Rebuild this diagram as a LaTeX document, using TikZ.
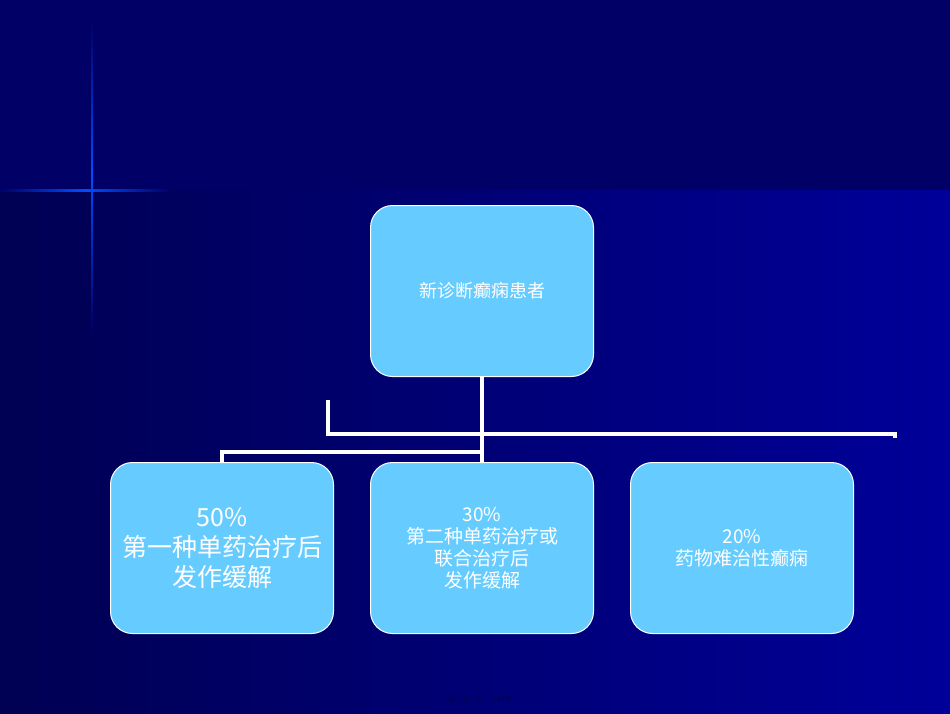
\documentclass[tikz,border=0pt]{standalone}
\usepackage{fontspec}
\newfontfamily\cjk{Noto Sans CJK SC}
\usetikzlibrary{shadings}
\definecolor{topbg}{HTML}{000066}
\definecolor{lowbg}{HTML}{000099}
\definecolor{boxfill}{HTML}{66CCFF}
\tikzset{
  box/.style={draw=white, line width=1pt, fill=boxfill, rounded corners=22pt, minimum width=223pt, minimum height=171pt, anchor=north west, text=white, align=center, font=\cjk},
  conn/.style={draw=white, line width=4.5pt}
}
\begin{document}
\begin{tikzpicture}[x=1pt,y=-1pt]
\useasboundingbox (0,0) rectangle (950,713);
\fill[lowbg] (0,0) rectangle (950,713);
\shade[left color=topbg!80!black, right color=lowbg, shading angle=90] (0,190) rectangle (950,713);
\fill[topbg] (0,0) rectangle (950,190);
\fill[topbg!85!black, opacity=0.6] (0,190) rectangle (90,713);
% flare
\shade[top color=topbg, bottom color=topbg, middle color=blue!70!cyan] (91,20) rectangle (93,330);
\shade[left color=topbg, right color=topbg, middle color=blue!70!cyan] (0,189) rectangle (170,191);
\node[box, font=\cjk\fontsize{18}{22}\selectfont] (top) at (370,205) {新诊断癫痫患者};
\node[box, font=\cjk\fontsize{25}{30}\selectfont] (b1) at (110,462) {50\%\\第一种单药治疗后\\发作缓解};
\node[box, font=\cjk\fontsize{19}{22}\selectfont] (b2) at (370,462) {30\%\\第二种单药治疗或\\联合治疗后\\发作缓解};
\node[box, font=\cjk\fontsize{19}{22}\selectfont] (b3) at (630,462) {20\%\\药物难治性癫痫};
\coordinate (l1) at (328,400);
\coordinate (l2) at (895,438);
\draw[conn] (top.south) -- (b2.north);
\draw[conn] (top.south |- 0,452) -| (b1.north);
\draw[conn] (l1) |- (895,434) -- (l2);
\node[font=\cjk\fontsize{7}{8}\selectfont, text=black!70!blue] (foot) at (480,700) {第三页，共三十四页};
\end{tikzpicture}
\end{document}
